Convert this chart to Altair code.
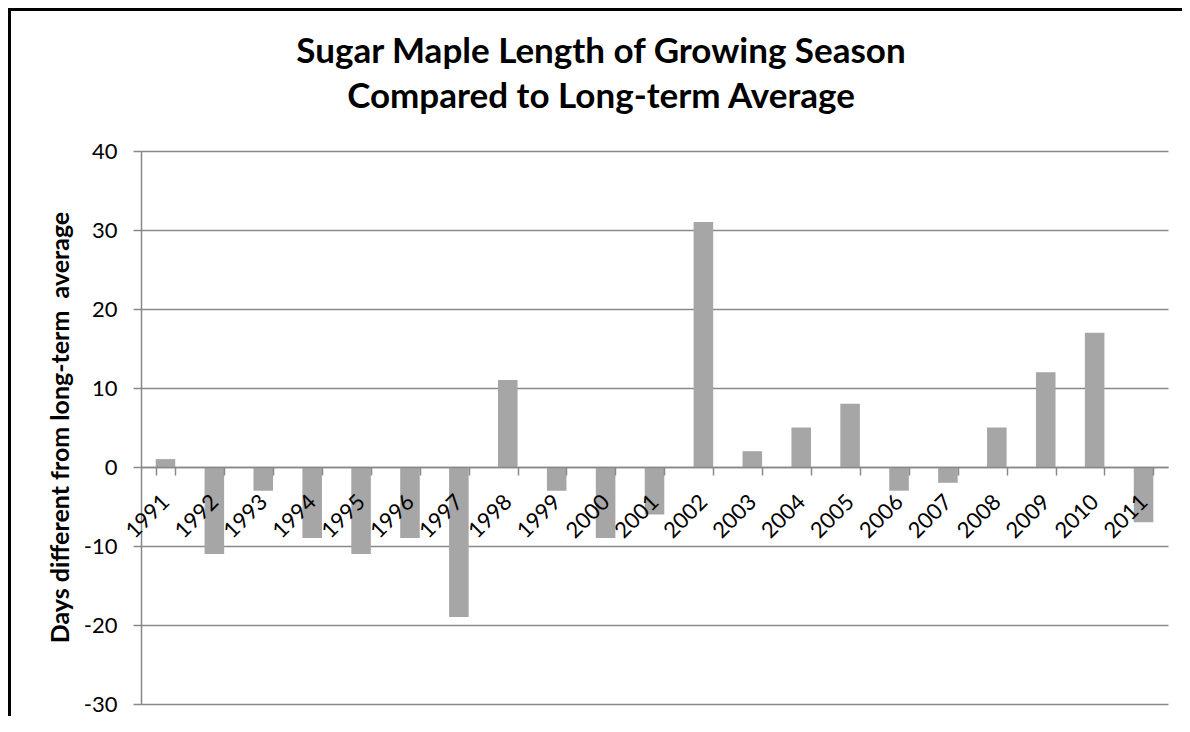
import altair as alt
import pandas as pd

# ---- data ----
years = ["1991", "1992", "1993", "1994", "1995", "1996", "1997", "1998", "1999", "2000",
         "2001", "2002", "2003", "2004", "2005", "2006", "2007", "2008", "2009", "2010", "2011"]
days = [1, -11, -3, -9, -11, -9, -19, 11, -3, -9,
        -6, 31, 2, 5, 8, -3, -2, 5, 12, 17, -7]
y_ticks = [-30, -20, -10, 0, 10, 20, 30, 40]
title_lines = ["Sugar Maple Length of Growing Season", "Compared to Long-term Average"]
y_title = "Days different from long-term\u00a0 average"

df = pd.DataFrame({"year": years, "days": days})

FONT = "Lato"
GRID = "#898989"
BAR = "#a6a6a6"

W, H = 1027, 553
zero_offset = -int(round(H * 30 / 70))

bars = alt.Chart(df).mark_bar(color=BAR).encode(
    x=alt.X(
        "year:N",
        sort=years,
        scale=alt.Scale(paddingInner=0.6, paddingOuter=0.3),
        axis=alt.Axis(
            title=None,
            orient="bottom",
            offset=zero_offset,
            tickBand="extent",
            tickSize=8,
            tickColor=GRID,
            tickWidth=1.5,
            domainColor=GRID,
            domainWidth=1.5,
            labelAngle=-45,
            labelAlign="right",
            labelBaseline="middle",
            labelPadding=23,
            labelFont=FONT,
            labelFontSize=22,
            labelColor="black",
            labelOverlap=False,
            labelFlush=False,
            grid=False,
            zindex=1,
        ),
    ),
    y=alt.Y(
        "days:Q",
        scale=alt.Scale(domain=[-30, 40], nice=False, zero=False),
        axis=alt.Axis(
            values=y_ticks,
            labelExpr="datum.value + ''",
            title=y_title,
            domainColor=GRID,
            domainWidth=1.5,
            tickColor=GRID,
            tickWidth=1.5,
            tickSize=8,
            gridColor=GRID,
            gridWidth=1.5,
            labelFont=FONT,
            labelFontSize=22,
            labelColor="black",
            labelPadding=16,
            titleFont=FONT,
            titleFontSize=25,
            titleFontWeight="bold",
            titleColor="black",
            titleX=-81,
            titleY=276,
            titleAngle=-90,
            titleAlign="center",
            titleBaseline="middle",
        ),
    ),
)

frame = alt.Chart(pd.DataFrame({"k": [0]})).mark_rect(
    fillOpacity=0, stroke="black", strokeWidth=3
).encode(
    x=alt.value(-131.5), x2=alt.value(1250),
    y=alt.value(-141.5), y2=alt.value(800),
)

title = alt.Chart(pd.DataFrame({"k": [0]})).mark_text(
    text=title_lines,
    font=FONT,
    fontSize=35,
    fontWeight="bold",
    color="black",
    align="center",
    baseline="alphabetic",
    lineHeight=45,
).encode(
    x=alt.value(460),
    y=alt.value(-88),
)

chart = alt.layer(frame, bars, title).properties(
    width=W,
    height=H,
    autosize=alt.AutoSizeParams(type="none"),
    padding={"left": 133, "top": 143, "right": 14, "bottom": 12},
).configure_view(strokeWidth=0)

chart.save("out.html", embed_options={"renderer": "svg", "actions": False})
